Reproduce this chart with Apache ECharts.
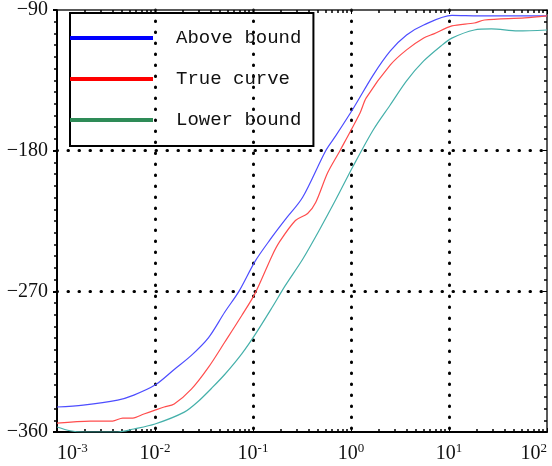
<!DOCTYPE html>
<html>
<head>
<meta charset="utf-8">
<script src="https://cdn.jsdelivr.net/npm/echarts@6/dist/echarts.min.js"></script>
<style>
  html, body { margin: 0; padding: 0; background: #fff; }
  #main { width: 552px; height: 466px; }
</style>
</head>
<body>
<div id="main"></div>
<script>
// 读图得到的数据（频率, 相位）
var aboveX = [0.001, 0.00185, 0.00416, 0.00608, 0.01, 0.0157, 0.0235, 0.0352, 0.0514, 0.0718, 0.105, 0.150, 0.214, 0.320, 0.552, 0.700, 1.05, 1.69, 2.52, 3.69, 5.52, 10.7, 20.4, 100];
var aboveY = [-344, -342.8, -339.6, -336.4, -330, -320, -311, -299.6, -283.4, -270, -250.8, -236.8, -224, -210, -180, -170.4, -153.2, -131.5, -116.2, -106, -99.6, -93.5, -93.8, -93.8];

var trueX = [0.001, 0.00219, 0.00369, 0.00468, 0.00593, 0.00771, 0.01, 0.0124, 0.0157, 0.0235, 0.0352, 0.0514, 0.0771, 0.105, 0.157, 0.185, 0.271, 0.361, 0.436, 0.579, 0.771, 1.24, 1.43, 2.52, 3.69, 5.52, 7.0, 10.7, 18.1, 23.0, 59.3, 100];
var trueY = [-354.3, -353, -353, -351.1, -351.1, -348.5, -346, -344, -342.1, -332.6, -318.5, -302.6, -285.3, -271.3, -247, -238.7, -224.7, -220.2, -213.2, -194, -180, -155.7, -146.2, -125.1, -115.5, -107.9, -105.3, -100.2, -98.3, -96.4, -95.1, -93.8];

var lowerX = [0.001, 0.00136, 0.00185, 0.00416, 0.00608, 0.01, 0.0199, 0.0277, 0.0378, 0.0514, 0.0771, 0.105, 0.157, 0.214, 0.320, 0.479, 0.700, 1.05, 1.69, 2.52, 3.69, 5.52, 8.28, 10.7, 18.1, 27.1, 50.2, 100];
var lowerY = [-356.8, -359.2, -360, -360, -358.1, -354.9, -347.3, -340.3, -332, -323.2, -309.8, -297.7, -280.2, -266.2, -249.6, -230.4, -211.3, -190, -166.6, -150.6, -135.3, -122.6, -113, -108, -102.8, -102.1, -103.4, -102.8];

var seriesNames = ['Above bound', 'True curve', 'Lower bound'];
var legendColors = ['#0000ff', '#ff0000', '#2e8b57'];
var lineColors = ['#4d4dff', '#ff4d4d', '#45b0aa'];
var yTicks = [-360, -270, -180, -90];

function pairs(xs, ys) {
    var out = [];
    for (var i = 0; i < xs.length; i++) out.push([xs[i], ys[i]]);
    return out;
}

var chart = echarts.init(document.getElementById('main'));

var dotted = { color: '#000', width: 3, type: [0.5, 10.5], cap: 'round' };

chart.setOption({
    animation: false,
    grid: { left: 57, right: 5, top: 7, bottom: 34 },
    legend: {
        orient: 'vertical',
        left: 70,
        top: 13,
        padding: [15, 12, 16, 0],
        itemGap: 21,
        itemWidth: 83,
        itemHeight: 4,
        icon: 'rect',
        borderColor: '#000',
        borderWidth: 2,
        textStyle: { fontFamily: 'Liberation Mono', fontSize: 19, lineHeight: 20, color: '#111', padding: [0, 0, 0, 18] },
        data: seriesNames.map(function(n, i) {
            return { name: n, itemStyle: { color: legendColors[i] } };
        })
    },
    xAxis: [{
        type: 'log',
        logBase: 10,
        min: 0.001,
        max: 100,
        axisLine: { lineStyle: { color: '#000', width: 2 } },
        axisTick: { show: true, inside: true, length: 4, lineStyle: { color: '#000' } },
        minorTick: { show: true, splitNumber: 10, length: 3, lineStyle: { color: '#000', width: 1.5 } },
        splitLine: { show: true, showMinLine: false, showMaxLine: false, lineStyle: dotted },
        axisLabel: {
            margin: 10,
            alignMinLabel: 'left',
            alignMaxLabel: 'right',
            formatter: function(v) {
                var e = Math.round(Math.log(v) / Math.LN10);
                return '{b|10}{s|' + e + '}';
            },
            rich: {
                b: { fontFamily: 'Liberation Serif', fontSize: 20, lineHeight: 22, color: '#111', verticalAlign: 'bottom' },
                s: { fontFamily: 'Liberation Serif', fontSize: 13, lineHeight: 13, color: '#111', verticalAlign: 'top' }
            }
        }
    }, {
        type: 'log',
        logBase: 10,
        min: 0.001,
        max: 100,
        position: 'top',
        axisLine: { lineStyle: { color: '#222', width: 1.5 } },
        axisTick: { show: true, inside: true, length: 4, lineStyle: { color: '#000' } },
        minorTick: { show: true, splitNumber: 10, length: 3, lineStyle: { color: '#000', width: 1.5 } },
        splitLine: { show: false },
        axisLabel: { show: false }
    }],
    yAxis: [{
        type: 'value',
        min: yTicks[0],
        max: yTicks[yTicks.length - 1],
        interval: 90,
        axisLine: { show: true, lineStyle: { color: '#000', width: 2 } },
        axisTick: { show: true, inside: false, length: 4, lineStyle: { color: '#000', width: 2 } },
        minorTick: { show: true, splitNumber: 12, length: 3, lineStyle: { color: '#000', width: 1.5 } },
        splitLine: { show: true, showMinLine: false, showMaxLine: false, lineStyle: dotted },
        axisLabel: {
            margin: 9,
            fontFamily: 'Liberation Serif',
            fontSize: 20,
            color: '#111',
            formatter: function(v) { return String(v).replace('-', '\u2212'); }
        }
    }, {
        type: 'value',
        min: yTicks[0],
        max: yTicks[yTicks.length - 1],
        interval: 90,
        position: 'right',
        axisLine: { show: true, lineStyle: { color: '#222', width: 1.5 } },
        axisTick: { show: true, inside: true, length: 4, lineStyle: { color: '#000' } },
        minorTick: { show: true, splitNumber: 12, length: 3, lineStyle: { color: '#000', width: 1.5 } },
        splitLine: { show: false },
        axisLabel: { show: false }
    }],
    series: [
        { name: seriesNames[0], type: 'line', data: pairs(aboveX, aboveY) },
        { name: seriesNames[1], type: 'line', data: pairs(trueX, trueY) },
        { name: seriesNames[2], type: 'line', data: pairs(lowerX, lowerY) }
    ].map(function(s, i) {
        s.showSymbol = false;
        s.smooth = 0.3;
        s.itemStyle = { color: legendColors[i] };
        s.lineStyle = { color: lineColors[i], width: 1.2 };
        s.z = 3;
        return s;
    })
});
</script>
</body>
</html>
